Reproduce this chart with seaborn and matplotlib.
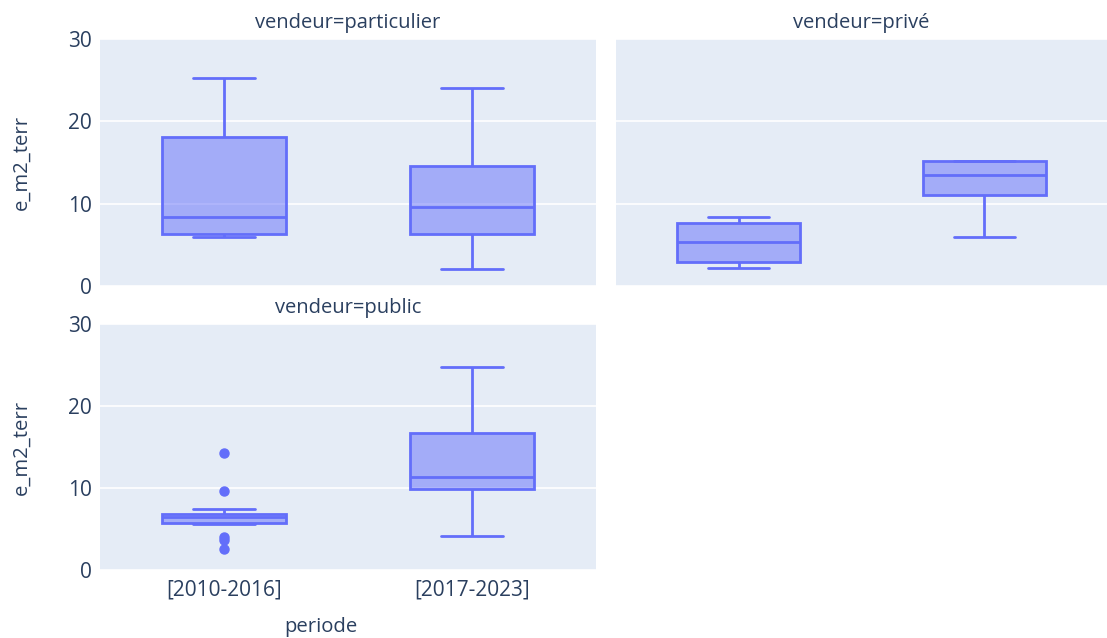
import numpy as np
import pandas as pd
import matplotlib
matplotlib.use("Agg")
import matplotlib.pyplot as plt
import seaborn as sns

# ---- data (box statistics per facet / period) ----
vendeurs = ["particulier", "privé", "public"]
periodes = ["[2010-2016]", "[2017-2023]"]
# order: particulier 2010, particulier 2017, privé 2010, privé 2017, public 2010, public 2017
whisker_lo = [5.9, 2.1, 2.15, 5.9, 5.6, 4.2]
q1 = [6.3, 6.3, 2.95, 11.0, 5.77, 9.88]
median = [8.4, 9.6, 5.3, 13.5, 6.43, 11.3]
q3 = [18.05, 14.6, 7.6, 15.2, 6.83, 16.7]
whisker_hi = [25.3, 24.1, 8.35, 15.2, 7.47, 24.8]
outliers = [[], [], [], [], [2.52, 3.66, 3.99, 9.67, 14.3], []]

yticks = [0, 10, 20, 30]


def sample_from_stats(lo, a, m, b, hi, fl):
    """Observations whose linear-interpolated quartiles equal the read stats."""
    low = sorted(v for v in fl if v < a)
    high = sorted(v for v in fl if v > b)
    k = max(len(low), len(high)) + 1
    return (low + [lo] * (k - len(low)) + [a] * k + [m] * k + [b]
            + [hi] * (k - len(high)) + high)


rows = []
i = 0
for v in vendeurs:
    for p in periodes:
        for val in sample_from_stats(whisker_lo[i], q1[i], median[i], q3[i],
                                     whisker_hi[i], outliers[i]):
            rows.append({"vendeur": v, "periode": p, "e_m2_terr": val})
        i += 1
df = pd.DataFrame(rows)

# ---- styling ----
sns.set_theme(style="white")
plt.rcParams["font.family"] = ["Open Sans", "DejaVu Sans"]
TXT = "#2a3f5f"
LINE = "#636EFA"
FILL = (99 / 255, 110 / 255, 250 / 255, 0.5)
BG = "#E5ECF6"

W, H = 1107, 638
fig = plt.figure(figsize=(W / 100, H / 100), dpi=100)


def px_axes(left, top, right, bottom):
    return fig.add_axes([left / W, (H - bottom) / H, (right - left) / W, (bottom - top) / H])


ax_tl = px_axes(100, 39, 596, 286)
ax_tr = px_axes(616, 39, 1107, 286)
ax_bl = px_axes(100, 324, 596, 570)
axes = {"particulier": ax_tl, "privé": ax_tr, "public": ax_bl}

for v, ax in axes.items():
    sub = df[df["vendeur"] == v]
    sns.boxplot(data=sub, x="periode", y="e_m2_terr", order=periodes, ax=ax,
                color=LINE, linecolor=LINE, saturation=1, width=0.5,
                linewidth=2.0, whis=1.5,
                flierprops=dict(marker="o", markerfacecolor=LINE,
                                markeredgecolor=LINE, markersize=6.5))
    for patch in ax.patches:
        patch.set_facecolor(FILL)
        patch.set_edgecolor(LINE)
    ax.set_facecolor(BG)
    for s in ax.spines.values():
        s.set_visible(False)
    ax.set_ylim(0, 30)
    ax.set_xlim(-0.5, 1.5)
    ax.set_yticks(yticks)
    ax.yaxis.grid(True, color="white", linewidth=1.2)
    ax.xaxis.grid(False)
    ax.set_axisbelow(True)
    ax.set_xlabel("")
    ax.set_ylabel("")
    ax.tick_params(axis="both", length=0, labelsize=15, colors=TXT, pad=6)
    ax.text(0.5, 1 + 11 / 247, f"vendeur={v}", transform=ax.transAxes,
            ha="center", va="baseline", fontsize=14.5, color=TXT)

ax_tr.set_yticklabels([])
ax_tl.set_xticklabels([])
ax_tr.set_xticklabels([])
ax_bl.tick_params(axis="x", pad=7)

fig.text(22 / W, 1 - 162 / H, "e_m2_terr", rotation=90, ha="center", va="center",
         fontsize=14.6, color=TXT)
fig.text(22 / W, 1 - 447 / H, "e_m2_terr", rotation=90, ha="center", va="center",
         fontsize=14.6, color=TXT)
fig.text(321 / W, 1 - 627 / H, "periode", ha="center", va="center",
         fontsize=14.6, color=TXT)

fig.savefig("out.png", dpi=100, facecolor="white")
